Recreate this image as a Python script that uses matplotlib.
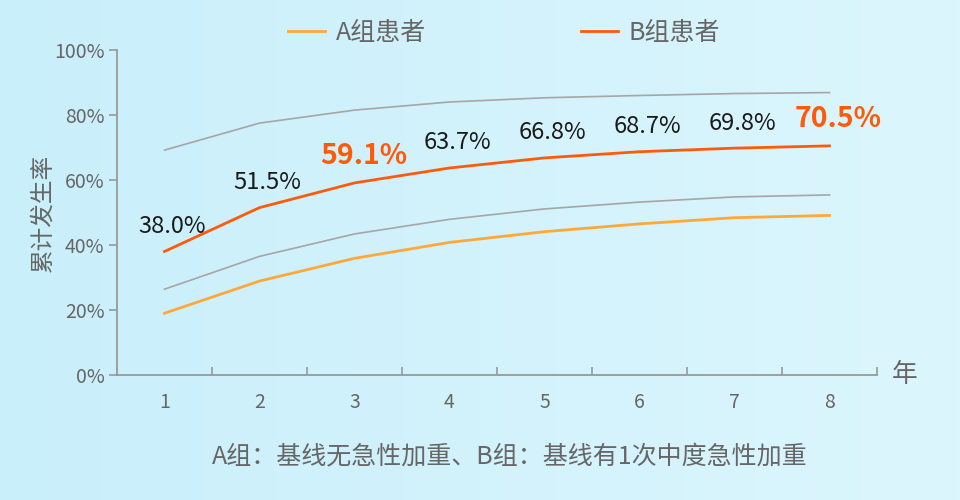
import matplotlib.pyplot as plt
import numpy as np
from matplotlib.colors import LinearSegmentedColormap

plt.rcParams['font.family'] = ['Noto Sans CJK SC', 'DejaVu Sans']

years = [1, 2, 3, 4, 5, 6, 7, 8]
group_a = [19.0, 28.9, 35.9, 40.8, 44.1, 46.5, 48.4, 49.1]
group_b = [38.0, 51.5, 59.1, 63.7, 66.8, 68.7, 69.8, 70.5]
upper_band = [69.2, 77.5, 81.5, 84.0, 85.3, 86.0, 86.6, 86.9]
lower_band = [26.4, 36.5, 43.4, 47.9, 51.1, 53.2, 54.8, 55.4]
highlight = [3, 8]
y_ticks = [0, 20, 40, 60, 80, 100]

color_a = "#FFA83A"
color_b = "#FF5A0A"
color_gray = "#A6A6A6"
text_gray = "#666666"

fig = plt.figure(figsize=(9.6, 5), dpi=100)

# background gradient
bg = fig.add_axes([0, 0, 1, 1], zorder=-10)
cmap = LinearSegmentedColormap.from_list("bg", ["#C9EFFB", "#DCF6FD"])
grad = np.linspace(0, 1, 256).reshape(1, -1)
bg.imshow(grad, aspect="auto", cmap=cmap, extent=[0, 1, 0, 1])
bg.axis("off")

ax = fig.add_axes([117 / 960, 0.25, 760 / 960, 0.65])
ax.patch.set_alpha(0)

ax.plot(years, upper_band, color=color_gray, lw=1.2)
ax.plot(years, lower_band, color=color_gray, lw=1.2)
ax.plot(years, group_a, color=color_a, lw=2.0, label="A组患者")
ax.plot(years, group_b, color=color_b, lw=2.0, label="B组患者")

for x, v in zip(years, group_b):
    if x in highlight:
        ax.annotate(f"{v:.1f}%", (x, v), xytext=(9, 27), textcoords="offset pixels",
                    ha="center", va="center", fontsize=20.5, fontweight="bold", color=color_b)
    else:
        ax.annotate(f"{v:.1f}%", (x, v), xytext=(8, 25), textcoords="offset pixels",
                    ha="center", va="center", fontsize=17, color="#1a1a1a")

ax.set_xlim(0.5, 8.5)
ax.set_ylim(0, 100)
ax.set_xticks(years)
ax.set_xticklabels([str(y) for y in years])
ax.set_xticks(np.arange(1.5, 9, 1), minor=True)
ax.tick_params(axis="x", which="major", length=0, pad=12, labelsize=14, labelcolor=text_gray)
ax.tick_params(axis="x", which="minor", direction="in", length=6, color="#999999", width=1.2)
ax.set_yticks(y_ticks)
ax.set_yticklabels([f"{t}%" for t in y_ticks])
ax.tick_params(axis="y", direction="out", length=6, color="#999999", width=1.2,
               labelsize=14, labelcolor=text_gray, pad=3)

for s in ["top", "right"]:
    ax.spines[s].set_visible(False)
for s in ["left", "bottom"]:
    ax.spines[s].set_color("#999999")
    ax.spines[s].set_linewidth(1.3)

ax.set_ylabel("累计发生率", fontsize=17, color=text_gray, labelpad=0)
ax.text(1.037, 0, "年", transform=ax.transAxes, fontsize=18.5, color=text_gray,
        ha="center", va="center")

ax.legend(loc="center", bbox_to_anchor=(0.509, 1.052), ncol=2, frameon=False,
          fontsize=18, labelcolor=text_gray, handlelength=1.5, handletextpad=0.4,
          columnspacing=6.2, borderaxespad=0)

fig.text(0.531, 0.086, "A组：基线无急性加重、B组：基线有1次中度急性加重",
         fontsize=18, color=text_gray, ha="center", va="center")

plt.savefig("out.png", dpi=100)
